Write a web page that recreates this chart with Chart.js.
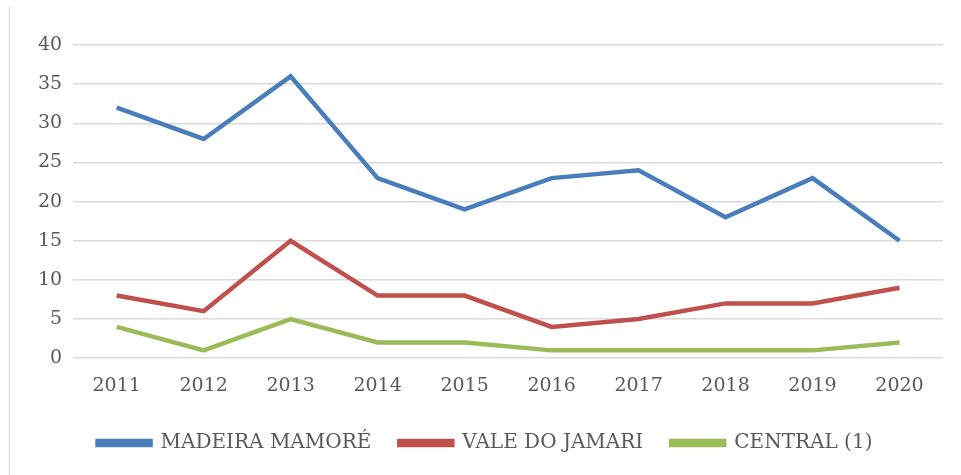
<!DOCTYPE html>
<html>
<head>
<meta charset="utf-8">
<script src="https://cdn.jsdelivr.net/npm/chart.js@4"></script>
<style>
  html, body { margin: 0; padding: 0; background: #fff; }
  #wrap { position: relative; width: 961px; height: 475px; }
  #edge { position: absolute; left: 9px; top: 7px; width: 1px; height: 468px; background: #d9d9d9; }
</style>
</head>
<body>
<div id="wrap">
  <div id="edge"></div>
  <canvas id="lineChart" width="961" height="475"></canvas>
</div>
<script>
const years = ['2011', '2012', '2013', '2014', '2015', '2016', '2017', '2018', '2019', '2020'];
const madeiraMamore = [32, 28, 36, 23, 19, 23, 24, 18, 23, 15];
const valeDoJamari = [8, 6, 15, 8, 8, 4, 5, 7, 7, 9];
const central = [4, 1, 5, 2, 2, 1, 1, 1, 1, 2];
const yTicks = [0, 5, 10, 15, 20, 25, 30, 35, 40];

const tickFont = { family: 'DejaVu Serif', size: 19 };

const ctx = document.getElementById('lineChart').getContext('2d');
const lineChart = new Chart(ctx, {
    type: 'line',
    data: {
        labels: years,
        datasets: [
            { label: 'MADEIRA MAMORÉ', data: madeiraMamore, borderColor: '#4a7ebb', backgroundColor: '#4a7ebb' },
            { label: 'VALE DO JAMARI', data: valeDoJamari, borderColor: '#c0504d', backgroundColor: '#c0504d' },
            { label: 'CENTRAL (1)', data: central, borderColor: '#9bbb59', backgroundColor: '#9bbb59' }
        ]
    },
    options: {
        responsive: false,
        animation: false,
        elements: {
            line: { borderWidth: 4.5, tension: 0 },
            point: { radius: 0 }
        },
        layout: { padding: { top: 45, left: 27, right: 18, bottom: 12 } },
        plugins: {
            tooltip: { enabled: false },
            legend: {
                position: 'bottom',
                labels: {
                    boxWidth: 53,
                    boxHeight: 4,
                    padding: 28,
                    color: '#595959',
                    font: { family: 'DejaVu Serif', size: 20 }
                }
            }
        },
        scales: {
            y: {
                min: 0,
                max: 40,
                afterBuildTicks: axis => { axis.ticks = yTicks.map(v => ({ value: v })); },
                border: { display: false },
                grid: { color: '#d9d9d9', lineWidth: 1.5, drawTicks: false },
                ticks: { padding: 11, color: '#595959', font: tickFont }
            },
            x: {
                offset: true,
                border: { display: false },
                grid: { display: false },
                ticks: { padding: 8, color: '#595959', font: tickFont }
            }
        }
    }
});
</script>
</body>
</html>
